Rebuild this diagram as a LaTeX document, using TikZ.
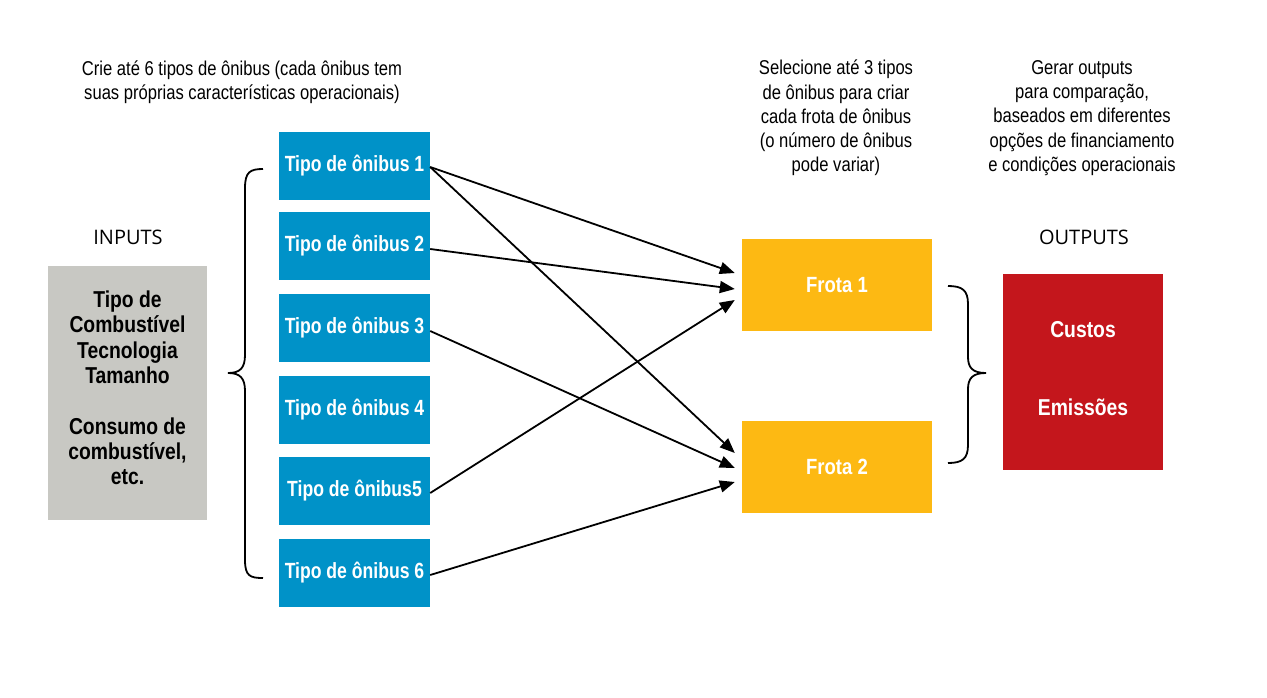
\documentclass[tikz,border=0pt]{standalone}
\usepackage{fontspec}
\setmainfont{Liberation Sans}
\newfontfamily\cond[FakeStretch=0.8]{Liberation Sans}
\newfontfamily\condwide[FakeStretch=0.84]{Liberation Sans}
\newfontfamily\condcap[FakeStretch=0.83]{Liberation Sans}
\newfontfamily\opensans{Open Sans}
\usetikzlibrary{arrows.meta,calc}
\definecolor{busblue}{RGB}{0,146,200}
\definecolor{frotayellow}{RGB}{253,185,19}
\definecolor{outred}{RGB}{196,22,28}
\definecolor{inputgray}{RGB}{200,200,195}
\tikzset{
  busbox/.style={fill=busblue, text=white, minimum width=151pt, minimum height=68pt, inner sep=0pt, font=\cond\bfseries\fontsize{22}{25}\selectfont},
  frotabox/.style={fill=frotayellow, text=white, minimum width=190pt, minimum height=92pt, inner sep=0pt, font=\condwide\bfseries\fontsize{22}{25}\selectfont},
  outtext/.style={text=white, inner sep=0pt, font=\condwide\bfseries\fontsize{23}{25}\selectfont},
  caption/.style={align=center, inner sep=0pt, font=\condcap\fontsize{20}{24.2}\selectfont},
  heading/.style={inner sep=0pt, font=\opensans\fontsize{20}{24}\selectfont},
  conn/.style={line width=1.8pt, -{Triangle[length=15pt,width=12pt]}},
  brace/.style={line width=1.8pt}
}
\begin{document}
\begin{tikzpicture}[x=1pt,y=-1pt]
\useasboundingbox (0,0) rectangle (1267,697);
% captions
\node[caption] (capL) at (242,82) {Crie até 6 tipos de ônibus (cada ônibus tem\\suas próprias características operacionais)};
\node[caption] (capM) at (836,118) {Selecione até 3 tipos\\de ônibus para criar\\cada frota de ônibus\\(o número de ônibus\\pode variar)};
\node[caption] (capR) at (1082,118) {Gerar outputs\\para comparação,\\baseados em diferentes\\opções de financiamento\\e condições operacionais};
\node[heading] (inp) at (128,237) {INPUTS};
\node[heading] (outp) at (1084,237) {OUTPUTS};
% input box
\node[fill=inputgray, minimum width=159pt, minimum height=254pt, inner sep=0pt] (in) at (127.5,393) {};
\node[align=center, inner sep=0pt, font=\condwide\bfseries\fontsize{23}{25.3}\selectfont] (intext) at (127.5,388)
  {Tipo de\\Combustível\\Tecnologia\\Tamanho\\[25.3pt]Consumo de\\combustível,\\etc.};
% bus boxes
\node[busbox] (b1) at (354.5,166) {Tipo de ônibus 1};
\node[busbox] (b2) at (354.5,246) {Tipo de ônibus 2};
\node[busbox] (b3) at (354.5,328) {Tipo de ônibus 3};
\node[busbox] (b4) at (354.5,410) {Tipo de ônibus 4};
\node[busbox] (b5) at (354.5,491) {Tipo de ônibus5};
\node[busbox] (b6) at (354.5,573) {Tipo de ônibus 6};
% fleets
\node[frotabox] (f1) at (837,285) {Frota 1};
\node[frotabox] (f2) at (837,467) {Frota 2};
% outputs
\node[fill=outred, minimum width=160pt, minimum height=196pt, inner sep=0pt] (out) at (1083,372) {};
\node[outtext] (cust) at (1083,330) {Custos};
\node[outtext] (emis) at (1083,407) {Emissões};
% braces
\coordinate (lbt) at (263,169);
\coordinate (lbb) at (263,578);
\coordinate (lbtip) at (228,373);
\draw[brace] (lbt) .. controls (250,169) and (245,172) .. (245,188)
  -- (245,355) .. controls (245,368) and (240,373) .. (lbtip)
  .. controls (240,373) and (245,378) .. (245,391)
  -- (245,560) .. controls (245,576) and (250,578) .. (lbb);
\coordinate (rbt) at (948,286);
\coordinate (rbb) at (948,463);
\coordinate (rbtip) at (986,373);
\draw[brace] (rbt) .. controls (962,286) and (968,290) .. (968,304)
  -- (968,357) .. controls (968,368) and (973,373) .. (rbtip)
  .. controls (973,373) and (968,378) .. (968,389)
  -- (968,445) .. controls (968,459) and (962,463) .. (rbb);
% connectors
\draw[conn] ([yshift=-1pt]b1.east) -- ($(f1.west)+(-7,-12)$);
\draw[conn] ([yshift=-1pt]b1.east) -- ($(f2.west)+(-7,-14)$);
\draw[conn] ([yshift=-3pt]b2.east) -- ($(f1.west)+(-7,4)$);
\draw[conn] ([yshift=-3pt]b3.east) -- ($(f2.west)+(-7,1)$);
\draw[conn] ([yshift=-2pt]b5.east) -- ($(f1.west)+(-7,15)$);
\draw[conn] ([yshift=-2pt]b6.east) -- ($(f2.west)+(-7,15)$);
\end{tikzpicture}
\end{document}
